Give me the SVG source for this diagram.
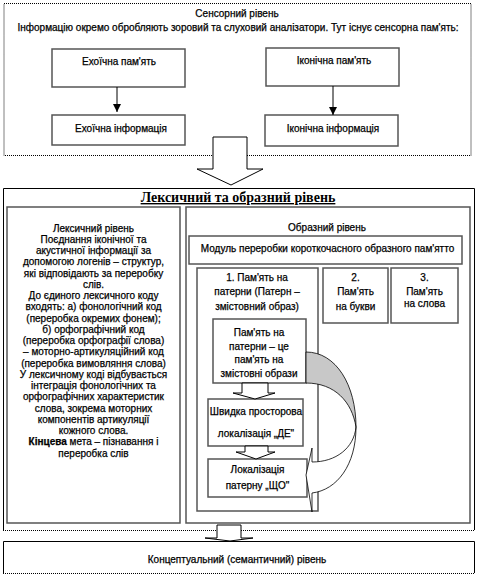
<svg xmlns="http://www.w3.org/2000/svg" width="477" height="576" viewBox="0 0 477 576">
<style>
text{font-family:"Liberation Sans",Arial,sans-serif;font-size:10px;fill:#000;stroke:#000;stroke-width:0.25;text-anchor:middle}
.dot{fill:none;stroke:#000;stroke-width:1;stroke-dasharray:1 1}
.box{fill:#fff;stroke:#555;stroke-width:1.5}
.ln{fill:none;stroke:#000;stroke-width:1}
.hol{fill:#fff;stroke:#000;stroke-width:1}
.ttl{font-family:"Liberation Serif","Times New Roman",serif;font-size:14px;font-weight:bold;text-decoration:underline;stroke-width:0}
.b{font-weight:bold}
</style>
<defs>
<marker id="ah" viewBox="0 0 10 10" refX="10" refY="5" markerWidth="8" markerHeight="8" markerUnits="userSpaceOnUse" orient="auto">
<path d="M0,0 L10,5 L0,10 Z" fill="#000"/>
</marker>
</defs>
<rect width="477" height="576" fill="#fff"/>

<g id="sensory">
<rect x="4" y="3.5" width="467" height="152" class="dot"/>
<text x="237" y="17">Сенсорний рівень</text>
<text x="238" y="31">Інформацію окремо обробляють зоровий та слуховий аналізатори. Тут існує сенсорна пам'ять:</text>
</g>
<g id="echo-mem">
<rect x="52" y="49" width="133" height="38" class="box"/>
<text x="119" y="65">Ехоїчна пам'ять</text>
</g>
<g id="echo-info">
<rect x="52" y="115" width="133" height="30" class="box"/>
<text x="121" y="132">Ехоїчна інформація</text>
</g>
<g id="icon-mem">
<rect x="266" y="48" width="133" height="38" class="box"/>
<text x="334" y="64">Іконічна пам'ять</text>
</g>
<g id="icon-info">
<rect x="265" y="115" width="133" height="31" class="box"/>
<text x="333" y="132">Іконічна інформація</text>
</g>

<g id="lexical-image">
<path d="M3.5,530 V188.5 H474.5 V530" class="ln"/>
<line x1="3" y1="530.5" x2="475" y2="530.5" class="dot"/>
<text x="238" y="202" class="ttl">Лексичний та образний рівень</text>
</g>

<g id="lexical-level">
<rect x="7" y="207" width="173" height="316" class="box"/>
<text x="93.5" y="231.5">Лексичний рівень</text>
<text x="93.5" y="242.8">Поєднання іконічної та</text>
<text x="93.5" y="254">акустичної інформації за</text>
<text x="93.5" y="265.3">допомогою логенів – структур,</text>
<text x="93.5" y="276.5">які відповідають за переробку</text>
<text x="93.5" y="287.8">слів.</text>
<text x="93.5" y="299">До єдиного лексичного коду</text>
<text x="93.5" y="310.3">входять: а) фонологічний код</text>
<text x="93.5" y="321.5">(переробка окремих фонем);</text>
<text x="93.5" y="332.8">б) орфографічний код</text>
<text x="93.5" y="344">(переробка орфографії слова)</text>
<text x="93.5" y="355.3">– моторно-артикуляційний код</text>
<text x="93.5" y="366.5">(переробка вимовляння слова)</text>
<text x="93.5" y="377.8">У лексичному коді відбувається</text>
<text x="93.5" y="389">інтеграція фонологічних та</text>
<text x="93.5" y="400.3">орфографічних характеристик</text>
<text x="93.5" y="411.5">слова, зокрема моторних</text>
<text x="93.5" y="422.8">компонентів артикуляції</text>
<text x="93.5" y="434">кожного слова.</text>
<text x="93.5" y="445.3"><tspan class="b">Кінцева</tspan> мета – пізнавання і</text>
<text x="93.5" y="456.5">переробка слів</text>
</g>

<g id="image-level">
<rect x="186" y="207" width="284" height="316" class="box"/>
<text x="327" y="231">Образний рівень</text>
</g>
<g id="module">
<rect x="189" y="236" width="273" height="28" class="box"/>
<text x="327.5" y="252">Модуль переробки короткочасного образного пам'ятто</text>
</g>
<g id="pattern-mem">
<rect x="197" y="268" width="121" height="243" class="box"/>
<text x="257" y="281">1. Пам'ять на</text>
<text x="257" y="295">патерни (Патерн –</text>
<text x="257" y="309.5">змістовний образ)</text>
</g>
<g id="letter-mem">
<rect x="323" y="268" width="65" height="55" class="box"/>
<text x="355.5" y="281">2.</text>
<text x="355.5" y="295">Пам'ять</text>
<text x="355.5" y="309.5">на букви</text>
</g>
<g id="word-mem">
<rect x="391" y="268" width="67" height="55" class="box"/>
<text x="424.5" y="281">3.</text>
<text x="424.5" y="295">Пам'ять</text>
<text x="424.5" y="307">на слова</text>
</g>
<g id="pattern-def">
<rect x="213" y="319" width="93" height="64" class="box"/>
<text x="259" y="335.5">Пам'ять на</text>
<text x="259" y="350">патерни – це</text>
<text x="259" y="362.5">пам'ять на</text>
<text x="259" y="376.5">змістовні образи</text>
</g>
<g id="where">
<rect x="208" y="399" width="95" height="47" class="box"/>
<text x="256" y="414.5">Швидка просторова</text>
<text x="256" y="436.5">локалізація „ДЕ"</text>
</g>
<g id="what">
<rect x="208" y="459" width="99" height="38" class="box"/>
<text x="257.5" y="472.5">Локалізація</text>
<text x="257.5" y="488.5">патерну „ЩО"</text>
</g>

<g id="conceptual">
<path d="M3.5,573 V541.5 H474.5 V573" class="ln"/>
<line x1="3" y1="573.5" x2="475" y2="573.5" class="dot"/>
<text x="237" y="562.5">Концептуальний (семантичний) рівень</text>
</g>

<g id="connectors">
<line x1="117" y1="87" x2="117" y2="112" class="ln" marker-end="url(#ah)"/>
<line x1="333" y1="86" x2="333" y2="115" class="ln" marker-end="url(#ah)"/>
<polygon points="213,137 247,137 247,169 263,169 231,185 197,169 213,169" class="hol"/>
<polygon points="242,383 268,383 268,393 275,393 255,399 233,393 242,393" class="hol"/>
<polygon points="245,446 268,446 268,452 275,452 256,459 236,452 245,452" class="hol"/>
<polygon points="217,525 241,525 241,538 253,538 230,541 205,538 217,538" class="hol"/>
<path d="M306,352 C336,352 356,385 356,427 C352,402 335,383 306,383 Z" fill="#c8c8c8" stroke="#000" stroke-width="0.8"/>
<path d="M356,427 C354,448 336,462 312,462 L312,448 L306,475 L312,512 L312,493 C337,490 356,465 356,427 Z" fill="#fff" stroke="#000" stroke-width="0.8"/>
</g>
</svg>
